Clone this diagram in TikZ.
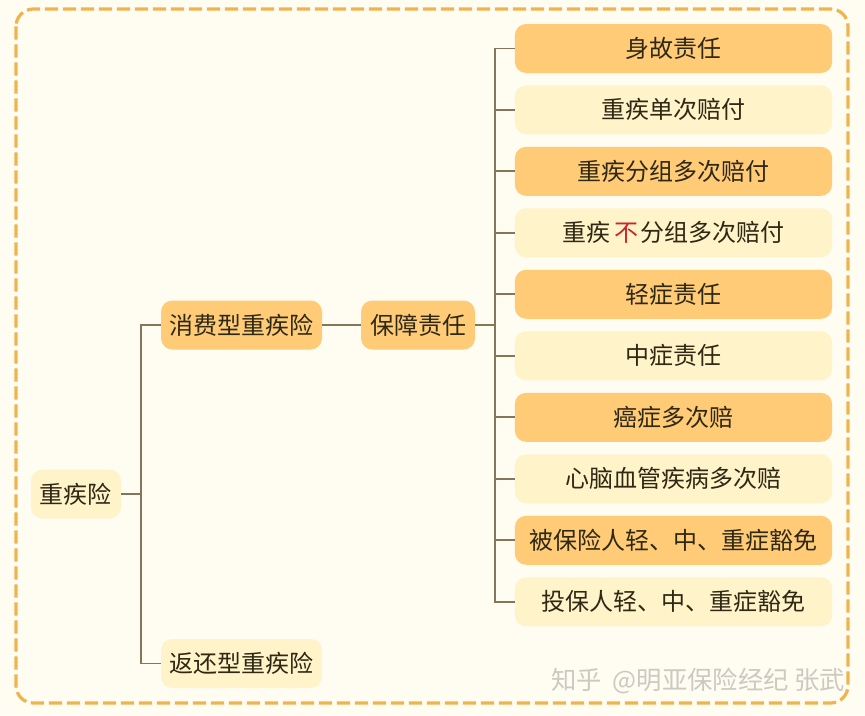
\documentclass[tikz,border=0pt]{standalone}
\usepackage{fontspec}
\setmainfont{Noto Sans CJK SC}
\definecolor{pagebg}{HTML}{FFFCF2}
\definecolor{frameline}{HTML}{F0B44E}
\definecolor{darkbox}{HTML}{FFCB77}
\definecolor{lightbox}{HTML}{FFF3C9}
\definecolor{linkline}{HTML}{85765A}
\definecolor{inktext}{HTML}{2E2814}
\definecolor{marktext}{HTML}{CCC9C1}
\tikzset{
  darknode/.style={fill=darkbox, rounded corners=8.5pt, text=inktext, inner sep=0pt, minimum height=36.75pt, font=\fontsize{18}{18}\selectfont},
  lightnode/.style={darknode, fill=lightbox},
  link/.style={draw=linkline, line width=1.25pt},
}
\begin{document}
\begin{tikzpicture}[x=0.75pt, y=-0.75pt]
\useasboundingbox (0,0) rectangle (865,715);
\fill[pagebg] (0,0) rectangle (865,715);
\draw[frameline, line width=2.4pt, rounded corners=13pt, dash pattern=on 10pt off 3.5pt] (16,9) rectangle (848,703);
\node[lightnode, minimum width=67.5pt] (nid0) at (76,494){重疾险};
\node[darknode, minimum width=120.75pt] (nid1) at (241.5,325){消费型重疾险};
\node[lightnode, minimum width=120.75pt] (nid2) at (241.5,663.5){返还型重疾险};
\node[darknode, minimum width=85.5pt] (nid3) at (418,325){保障责任};
\node[darknode, minimum width=238pt] (nid4) at (673.5,48.5){身故责任};
\node[lightnode, minimum width=238pt] (nid5) at (673.5,109.8){重疾单次赔付};
\node[darknode, minimum width=238pt] (nid6) at (673.5,171.3){重疾分组多次赔付};
\node[lightnode, minimum width=238pt] (nid7) at (673.5,232.8){重疾\hspace{3pt}\textcolor[HTML]{C9252B}{不}\hspace{1.5pt}分组多次赔付};
\node[darknode, minimum width=238pt] (nid8) at (673.5,294.3){轻症责任};
\node[lightnode, minimum width=238pt] (nid9) at (673.5,355.8){中症责任};
\node[darknode, minimum width=238pt] (nid10) at (673.5,417.3){癌症多次赔};
\node[lightnode, minimum width=238pt] (nid11) at (673.5,478.8){心脑血管疾病多次赔};
\node[darknode, minimum width=238pt] (nid12) at (673.5,540.3){被保险人轻、中、重症豁免};
\node[lightnode, minimum width=238pt] (nid13) at (673.5,601.8){投保人轻、中、重症豁免};
\draw[link](nid0.east) -- ++(20,0) |- (nid1.west);
\draw[link](nid0.east) -- ++(20,0) |- (nid2.west);
\draw[link](nid1) -- (nid3);
\draw[link](nid3.east) -- ++(20,0) |- (nid4.west);
\draw[link](nid3.east) -- ++(20,0) |- (nid5.west);
\draw[link](nid3.east) -- ++(20,0) |- (nid6.west);
\draw[link](nid3.east) -- ++(20,0) |- (nid7.west);
\draw[link](nid3.east) -- ++(20,0) |- (nid8.west);
\draw[link](nid3.east) -- ++(20,0) |- (nid9.west);
\draw[link](nid3.east) -- ++(20,0) |- (nid10.west);
\draw[link](nid3.east) -- ++(20,0) |- (nid11.west);
\draw[link](nid3.east) -- ++(20,0) |- (nid12.west);
\draw[link](nid3.east) -- ++(20,0) |- (nid13.west);
\node[marktext, inner sep=0pt, anchor=east, font=\fontsize{19}{19}\selectfont] (nid14) at (845,681){知乎\hspace{8pt}@明亚保险经纪\hspace{4pt}张武};
\end{tikzpicture}
\end{document}
